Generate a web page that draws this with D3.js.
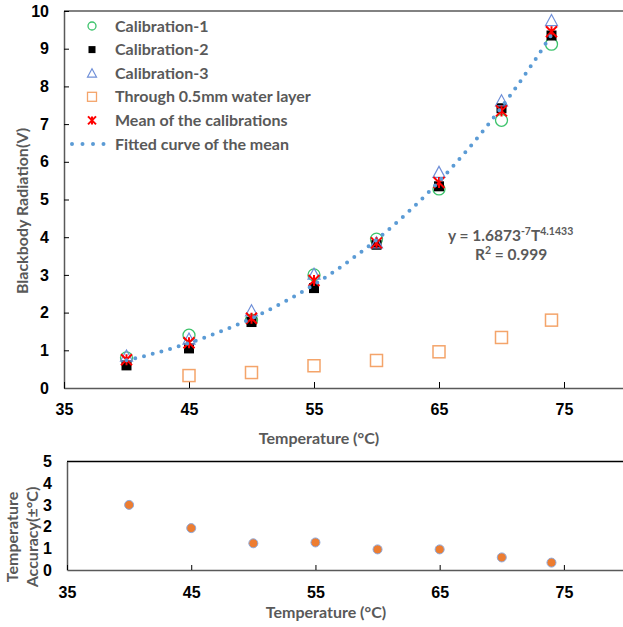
<!DOCTYPE html>
<html>
<head>
<meta charset="utf-8">
<script src="https://cdn.jsdelivr.net/npm/d3@7"></script>
<style>
  body { margin: 0; background: #fff; }
  svg { display: block; font-family: Lato, "Open Sans", sans-serif; }
  .tick text { font-weight: bold; fill: #000; font-size: 16px; }
  .title { font-weight: bold; fill: #595959; font-size: 16px; }
  .eq { font-weight: bold; fill: #595959; font-size: 15.5px; }
</style>
</head>
<body>
<svg id="chart" width="623" height="627"></svg>
<script>
// temperatures (°C)
var temps = [40, 45, 50, 55, 60, 65, 70, 74];
var cal1 = [0.80, 1.40, 1.80, 3.00, 3.95, 5.28, 7.10, 9.12];
var cal2 = [0.60, 1.05, 1.75, 2.65, 3.80, 5.35, 7.42, 9.35];
var cal3 = [0.85, 1.30, 2.05, 3.02, 3.85, 5.72, 7.62, 9.75];
var meanCal = [0.75, 1.20, 1.85, 2.85, 3.85, 5.45, 7.35, 9.45];
var waterTemps = [45, 50, 55, 60, 65, 70, 74];
var water = [0.33, 0.41, 0.59, 0.73, 0.96, 1.34, 1.80];
var accuracy = [3.0, 1.93, 1.23, 1.27, 0.95, 0.95, 0.58, 0.34];
var fitCoef = 1.6873e-7, fitExp = 4.1433, fitRange = [40, 74];
var xTicks = [35, 45, 55, 65, 75];

var svg = d3.select("#chart");
var axisColor = "#595959";

// ---------- top chart ----------
var x = d3.scaleLinear().domain([35, 80]).range([64, 626.5]),
    y = d3.scaleLinear().domain([0, 10]).range([388, 11]);

var top_g = svg.append("g");

top_g.append("line")
    .attr("x1", x(35)).attr("x2", 623)
    .attr("y1", y(10)).attr("y2", y(10))
    .attr("stroke", axisColor).attr("stroke-width", 1.5);

var yaxis = top_g.append("g")
    .attr("transform", "translate(" + x(35) + ",0)")
    .call(d3.axisLeft(y).tickValues(d3.range(0, 11)).tickSize(-5).tickSizeOuter(0).tickPadding(15));
var xaxis = top_g.append("g")
    .attr("transform", "translate(0," + y(0) + ")")
    .call(d3.axisBottom(x).tickValues(xTicks).tickSize(-6).tickSizeOuter(0).tickPadding(16));
[yaxis, xaxis].forEach(function(a) {
    a.select(".domain").attr("stroke", axisColor).attr("stroke-width", 1.5);
    a.selectAll(".tick line").attr("stroke", "#000");
});

function starPath(s) {
    return "M" + (-s) + "," + (-s) + "L" + s + "," + s +
        "M" + (-s) + "," + s + "L" + s + "," + (-s) +
        "M0," + (-s) + "L0," + s;
}
function triPath(s) {
    return "M0," + (-s) + "L" + s + "," + (s * 0.85) + "L" + (-s) + "," + (s * 0.85) + "Z";
}

var marks = top_g.append("g");

marks.selectAll(".c1").data(temps).enter().append("circle")
    .attr("cx", function(d) { return x(d); })
    .attr("cy", function(d, i) { return y(cal1[i]); })
    .attr("r", 6)
    .attr("fill", "none").attr("stroke", "#3cc36b").attr("stroke-width", 1.3);

marks.selectAll(".c2").data(temps).enter().append("rect")
    .attr("x", function(d) { return x(d) - 5; })
    .attr("y", function(d, i) { return y(cal2[i]) - 5; })
    .attr("width", 10).attr("height", 10)
    .attr("fill", "#000");

marks.selectAll(".c3").data(temps).enter().append("path")
    .attr("transform", function(d, i) { return "translate(" + x(d) + "," + y(cal3[i]) + ")"; })
    .attr("d", triPath(6))
    .attr("fill", "none").attr("stroke", "#6f8fd8").attr("stroke-width", 1.2);

marks.selectAll(".w").data(waterTemps).enter().append("rect")
    .attr("x", function(d) { return x(d) - 6; })
    .attr("y", function(d, i) { return y(water[i]) - 6; })
    .attr("width", 12).attr("height", 12)
    .attr("fill", "none").attr("stroke", "#f4a46a").attr("stroke-width", 1.5);

marks.selectAll(".m").data(temps).enter().append("path")
    .attr("transform", function(d, i) { return "translate(" + x(d) + "," + y(meanCal[i]) + ")"; })
    .attr("d", starPath(5.5))
    .attr("fill", "none").attr("stroke", "#ff0000").attr("stroke-width", 2);

// trendline from the fitted equation shown on the chart
var fitT = d3.range(fitRange[0], fitRange[1] + 0.01, 0.25);
var line = d3.line()
    .x(function(d) { return x(d); })
    .y(function(d) { return y(fitCoef * Math.pow(d, fitExp)); });
marks.append("path")
    .datum(fitT)
    .attr("d", line)
    .attr("fill", "none")
    .attr("stroke", "#5b9bd5")
    .attr("stroke-width", 4)
    .attr("stroke-linecap", "round")
    .attr("stroke-dasharray", "0 9");

// legend
var legendNames = ["Calibration-1", "Calibration-2", "Calibration-3",
    "Through 0.5mm water layer", "Mean of the calibrations", "Fitted curve of the mean"];
var legend = top_g.append("g");
legendNames.forEach(function(name, i) {
    var ly = 26 + i * 23.6, lx = 92;
    var g = legend.append("g").attr("transform", "translate(" + lx + "," + ly + ")");
    if (i === 0) g.append("circle").attr("r", 4).attr("fill", "none").attr("stroke", "#3cc36b").attr("stroke-width", 1.3);
    if (i === 1) g.append("rect").attr("x", -3.5).attr("y", -3.5).attr("width", 7).attr("height", 7).attr("fill", "#000");
    if (i === 2) g.append("path").attr("d", triPath(4.5)).attr("fill", "none").attr("stroke", "#6f8fd8").attr("stroke-width", 1.2);
    if (i === 3) g.append("rect").attr("x", -4.5).attr("y", -4.5).attr("width", 9).attr("height", 9).attr("fill", "none").attr("stroke", "#f4a46a").attr("stroke-width", 1.3);
    if (i === 4) g.append("path").attr("d", starPath(4)).attr("fill", "none").attr("stroke", "#ff0000").attr("stroke-width", 2);
    if (i === 5) g.append("line").attr("x1", -20).attr("x2", 12).attr("stroke", "#5b9bd5")
        .attr("stroke-width", 4).attr("stroke-linecap", "round").attr("stroke-dasharray", "0 10.5");
    g.append("text").attr("class", "title")
        .attr("x", 23).attr("dy", "0.35em")
        .text(name);
});

// equation
var eq = top_g.append("text").attr("class", "eq").attr("x", 448).attr("y", 241);
eq.append("tspan").text("y = 1.6873");
eq.append("tspan").attr("dy", -6).attr("font-size", "10.5px").text("-7");
eq.append("tspan").attr("dy", 6).text("T");
eq.append("tspan").attr("dy", -6).attr("font-size", "10.5px").text("4.1433");
var r2 = top_g.append("text").attr("class", "eq").attr("x", 475).attr("y", 260);
r2.append("tspan").text("R");
r2.append("tspan").attr("dy", -6).attr("font-size", "10.5px").text("2");
r2.append("tspan").attr("dy", 6).text(" = 0.999");

top_g.append("text").attr("class", "title")
    .attr("transform", "translate(28,211) rotate(-90)")
    .attr("text-anchor", "middle")
    .text("Blackbody Radiation(V)");
top_g.append("text").attr("class", "title")
    .attr("x", 319).attr("y", 444)
    .attr("text-anchor", "middle")
    .text("Temperature (°C)");

// ---------- bottom chart ----------
var x2 = d3.scaleLinear().domain([35, 80]).range([67, 626]),
    y2 = d3.scaleLinear().domain([0, 5]).range([570, 461.5]);

var bot = svg.append("g");
bot.append("line")
    .attr("x1", x2(35)).attr("x2", 623)
    .attr("y1", y2(5)).attr("y2", y2(5))
    .attr("stroke", "#000").attr("stroke-width", 1.5);

var yaxis2 = bot.append("g")
    .attr("transform", "translate(" + x2(35) + ",0)")
    .call(d3.axisLeft(y2).tickValues(d3.range(0, 6)).tickFormat(d3.format("d"))
        .tickSize(0).tickPadding(15));
var xaxis2 = bot.append("g")
    .attr("transform", "translate(0," + y2(0) + ")")
    .call(d3.axisBottom(x2).tickValues(xTicks).tickSize(-5).tickSizeOuter(0).tickPadding(17));
[yaxis2, xaxis2].forEach(function(a) {
    a.select(".domain").attr("stroke", axisColor).attr("stroke-width", 1.5);
    a.selectAll(".tick line").attr("stroke", "#000");
});

bot.selectAll(".acc").data(temps).enter().append("circle")
    .attr("cx", function(d) { return x2(d); })
    .attr("cy", function(d, i) { return y2(accuracy[i]); })
    .attr("r", 4.5)
    .attr("fill", "#ed7d31")
    .attr("stroke", "#8ea9db").attr("stroke-width", 1);

var t2 = bot.append("text").attr("class", "title")
    .attr("transform", "translate(0,537) rotate(-90)")
    .attr("text-anchor", "middle");
t2.append("tspan").attr("x", 0).attr("y", 18).text("Temperature");
t2.append("tspan").attr("x", 0).attr("y", 38).text("Accuracy(±°C)");

bot.append("text").attr("class", "title")
    .attr("x", 326).attr("y", 618)
    .attr("text-anchor", "middle")
    .text("Temperature (°C)");
</script>
</body>
</html>
